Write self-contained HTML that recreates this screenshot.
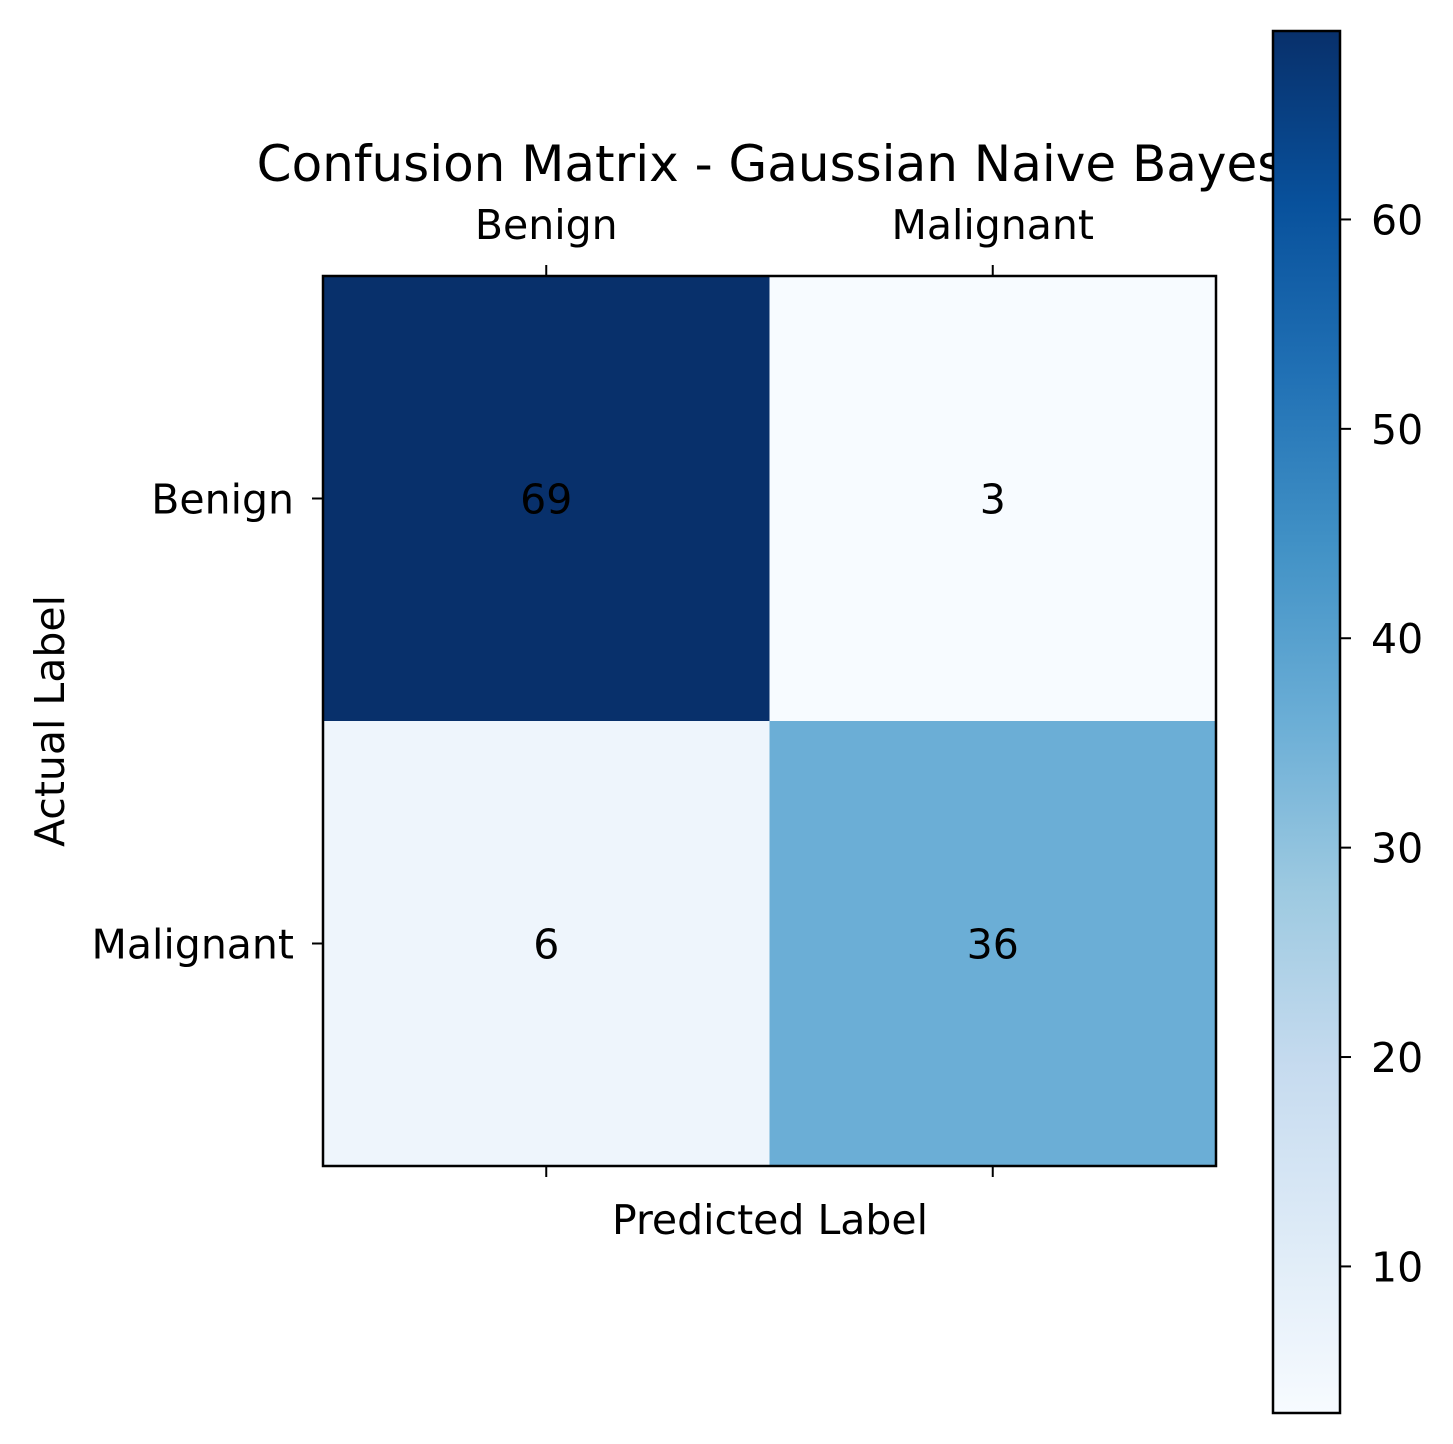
<!DOCTYPE html>
<html><head><meta charset="utf-8"><style>
html,body{margin:0;padding:0;background:#fff}
svg{display:block;font-family:"DejaVu Sans","Liberation Sans",sans-serif}
</style></head><body>
<svg id="chart" width="1453" height="1444" viewBox="0 0 1453 1444" xmlns="http://www.w3.org/2000/svg">
<defs><linearGradient id="cbg" x1="0" y1="1" x2="0" y2="0">
<stop offset="0" stop-color="#f7fbff"/><stop offset="0.125" stop-color="#deebf7"/><stop offset="0.25" stop-color="#c6dbef"/><stop offset="0.375" stop-color="#9ecae1"/><stop offset="0.5" stop-color="#6baed6"/><stop offset="0.625" stop-color="#4292c6"/><stop offset="0.75" stop-color="#2171b5"/><stop offset="0.875" stop-color="#08519c"/><stop offset="1" stop-color="#08306b"/>
</linearGradient></defs>
<text x="770" y="181" font-size="50" text-anchor="middle">Confusion Matrix - Gaussian Naive Bayes</text>
<g id="cells"></g>
<rect x="323" y="276" width="893" height="890" fill="none" stroke="#000" stroke-width="2.5"/>
<g id="ticks"></g>
<text x="770" y="1234" font-size="41" text-anchor="middle">Predicted Label</text>
<text transform="translate(64,721) rotate(-90)" font-size="41" text-anchor="middle">Actual Label</text>
<rect x="1273" y="31" width="67" height="1382" fill="url(#cbg)" stroke="#000" stroke-width="2.5"/>
<g id="cbticks"></g>
</svg>
<script>
const categories = ["Benign", "Malignant"];
const values = [[69, 3], [6, 36]];
const cbTicks = [10, 20, 30, 40, 50, 60];
const vmin = 3, vmax = 69;

const NS = "http://www.w3.org/2000/svg";
const stops = ["#f7fbff","#deebf7","#c6dbef","#9ecae1","#6baed6","#4292c6","#2171b5","#08519c","#08306b"];
function hex(c){return [1,3,5].map(i=>parseInt(c.substr(i,2),16));}
function cmap(v){
  let t=Math.max(0,Math.min(1,(v-vmin)/(vmax-vmin)))*(stops.length-1);
  let i=Math.min(Math.floor(t),stops.length-2), f=t-i;
  let a=hex(stops[i]), b=hex(stops[i+1]);
  return "rgb("+a.map((x,k)=>Math.round(x+(b[k]-x)*f)).join(",")+")";
}
const L=323,T=276,W=893,H=890,n=categories.length;
const xs=j=>L+W/n*j, ys=i=>T+H/n*i, cw=W/n, ch=H/n;
function mk(tag,attrs,parent){const e=document.createElementNS(NS,tag);for(const k in attrs)e.setAttribute(k,attrs[k]);parent.appendChild(e);return e;}
const cells=document.getElementById("cells");
values.forEach((row,i)=>row.forEach((v,j)=>{
  const r=mk("rect",{x:xs(j),y:ys(i),width:cw+0.5,height:ch+0.5,fill:cmap(v)},cells);
  
  
  const t=mk("text",{x:xs(j)+cw/2,y:ys(i)+ch/2+15,"font-size":"41","text-anchor":"middle",fill:"#000"},cells);
  t.textContent=v;
  
  
}));
const tg=document.getElementById("ticks");
categories.forEach((c,j)=>{
  const cx=xs(j)+cw/2;
  mk("line",{x1:cx,y1:T,x2:cx,y2:T-11,stroke:"#000","stroke-width":2},tg);
  mk("line",{x1:cx,y1:T+H,x2:cx,y2:T+H+11,stroke:"#000","stroke-width":2},tg);
  const t=mk("text",{x:cx,y:239,"font-size":41,"text-anchor":"middle"},tg);
  t.textContent=c;
  
  
});
categories.forEach((c,i)=>{
  const cy=ys(i)+ch/2;
  mk("line",{x1:L,y1:cy,x2:L-11,y2:cy,stroke:"#000","stroke-width":2},tg);
  const t=mk("text",{x:L-29,y:cy+15,"font-size":41,"text-anchor":"end"},tg);
  t.textContent=c;
  
  
});
const cb=document.getElementById("cbticks");
const cbT=31,cbH=1382;
const cy=v=>cbT+cbH*(1-(v-vmin)/(vmax-vmin));
cbTicks.forEach(v=>{
  mk("line",{x1:1340,y1:cy(v),x2:1351,y2:cy(v),stroke:"#000","stroke-width":2},cb);
  const t=mk("text",{x:1371,y:cy(v)+15,"font-size":41},cb);
  t.textContent=v;
  
  
});
</script>
</body></html>
